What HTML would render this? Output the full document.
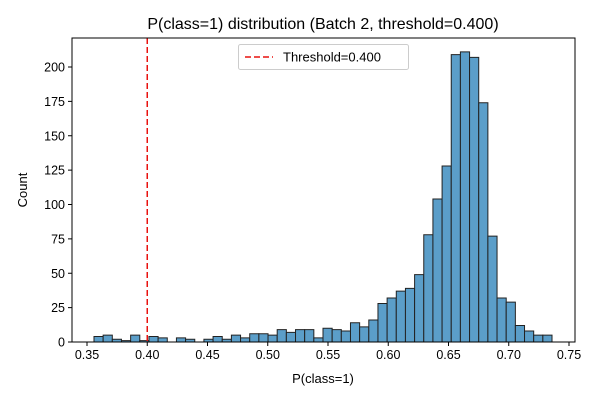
<!DOCTYPE html>
<html><head><meta charset="utf-8"><style>
body{margin:0;background:#fff;font-family:"Liberation Sans","DejaVu Sans",sans-serif}
svg text{font-family:"Liberation Sans","DejaVu Sans",sans-serif}
</style></head><body>
<svg id="c" width="600" height="400" xmlns="http://www.w3.org/2000/svg"></svg>
<script>
const counts=[4,5,2,1,5,1,4,3,0,3,2,0,2,4,2,5,3,6,6,5,9,7,9,9,3,10,9,8,14,11,16,28,32,37,39,49,78,104,128,209,211,207,174,77,32,29,12,8,5,5];
const binStart=0.3558;
const binEnd=0.7359;
const xTicks=[0.35,0.40,0.45,0.50,0.55,0.60,0.65,0.70,0.75];
const yTicks=[0,25,50,75,100,125,150,175,200];
const threshold=0.400;
const svg=document.getElementById('c');
const NS='http://www.w3.org/2000/svg';
const L=72,R=575,T=38,B=342;
const xs=v=>87+(v-0.35)*1205;
const ys=v=>B-v*1.375;
function mk(t,a,p){const e=document.createElementNS(NS,t);for(const k in a)e.setAttribute(k,a[k]);(p||svg).appendChild(e);return e;}
const bw=(binEnd-binStart)/counts.length;
counts.forEach((c,i)=>{
 if(c<=0)return;
 const x0=xs(binStart+i*bw),x1=xs(binStart+(i+1)*bw);
 const r=mk('rect',{x:x0,y:ys(c),width:x1-x0,height:B-ys(c),fill:'#5b9ec9',stroke:'#222','stroke-width':1});
 
 
});
const th=mk('line',{x1:xs(threshold),x2:xs(threshold),y1:T,y2:B,stroke:'#e8120f','stroke-width':1.5,'stroke-dasharray':'6,3'});


const fr=mk('rect',{x:L,y:T,width:R-L,height:B-T,fill:'none',stroke:'#000','stroke-width':1});


xTicks.forEach(v=>{
 const x=xs(v);
 mk('line',{x1:x,x2:x,y1:B,y2:B+4,stroke:'#000'});
 const t=mk('text',{x:x,y:B+17,'text-anchor':'middle','font-size':12.5,fill:'#000'});
 t.textContent=v.toFixed(2);
 
 
});
yTicks.forEach(v=>{
 const y=ys(v);
 mk('line',{x1:L-4,x2:L,y1:y,y2:y,stroke:'#000'});
 const t=mk('text',{x:L-7,y:y+4.5,'text-anchor':'end','font-size':12.5,fill:'#000'});
 t.textContent=v;
 
 
});
</script>
<svg style="position:absolute;left:0;top:0" width="600" height="400" xmlns="http://www.w3.org/2000/svg">
<text x="323" y="29" text-anchor="middle" font-size="16">P(class=1) distribution (Batch 2, threshold=0.400)</text>
<text x="323" y="383" text-anchor="middle" font-size="13">P(class=1)</text>
<text x="27" y="190" text-anchor="middle" font-size="13" transform="rotate(-90 27 190)">Count</text>
<g>
<rect x="238.5" y="44.5" width="170" height="25" rx="2" fill="#fff" stroke="#ccc"/>
<line x1="245" x2="273" y1="57" y2="57" stroke="#e8120f" stroke-width="1.5" stroke-dasharray="6,3"/>
<text x="283" y="61.5" font-size="13">Threshold=0.400</text>
</g>
</svg>
</body></html>
